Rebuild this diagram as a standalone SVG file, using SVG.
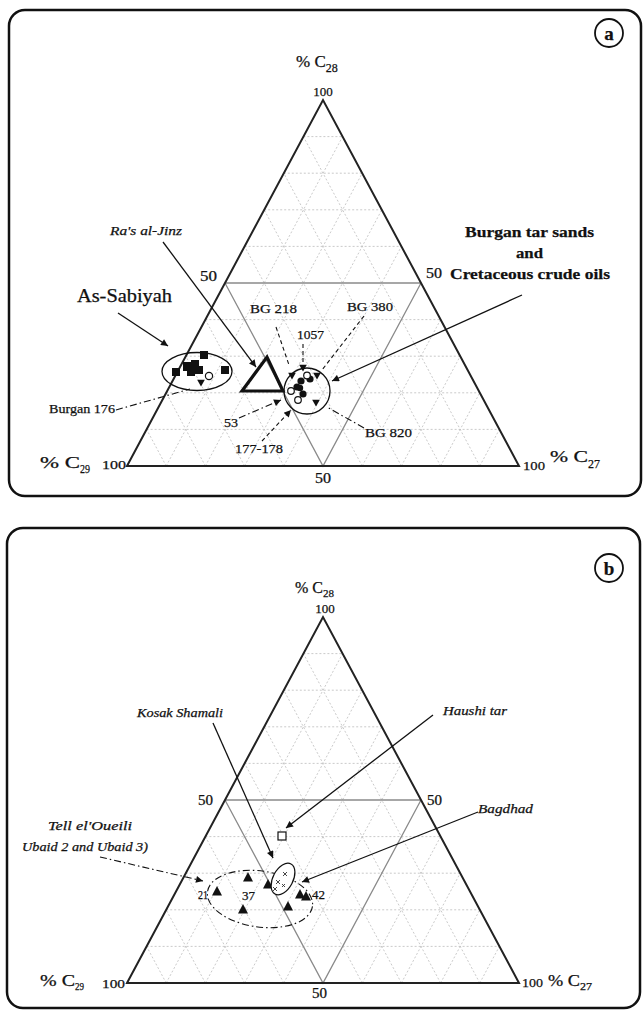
<svg xmlns="http://www.w3.org/2000/svg" xmlns:xlink="http://www.w3.org/1999/xlink" width="643" height="1011" viewBox="0 0 643 1011">
<style>
text{font-family:"Liberation Serif","Times New Roman",serif;fill:#111;stroke:#111;stroke-width:0.25}
.it{font-style:italic}
.bd{font-weight:bold}
.frame{fill:#fff;stroke:#111;stroke-width:2.5}
.grid{fill:none;stroke:#bdbdbd;stroke-width:0.8;stroke-dasharray:2 2}
.half{fill:none;stroke:#8a8a8a;stroke-width:1.3}
.tri{fill:none;stroke:#222;stroke-width:2}
.ln{fill:none;stroke:#111;stroke-width:1.3}
.dash{fill:none;stroke:#111;stroke-width:1.1;stroke-dasharray:4 3}
.dd{fill:none;stroke:#111;stroke-width:1.1;stroke-dasharray:7 3 1.5 3}
.blk{fill:#111}
.open{fill:#fff;stroke:#111;stroke-width:1.2}
</style>
<defs>
<marker id="ah" viewBox="0 0 10 10" refX="10" refY="5" markerWidth="9" markerHeight="7" orient="auto" markerUnits="userSpaceOnUse"><path d="M0,0L10,5L0,10Z" fill="#111"/></marker>
<g id="ternary">
<path class="grid" d="M146.6 429.4H499.4M166.2 392.8H479.8M185.8 356.2H460.2M205.4 319.6H440.6M244.6 246.4H401.4M264.2 209.8H381.8M283.8 173.2H362.2M303.4 136.6H342.6M166.2 466L342.6 136.6M205.4 466L362.2 173.2M244.6 466L381.8 209.8M283.8 466L401.4 246.4M362.2 466L440.6 319.6M401.4 466L460.2 356.2M440.6 466L479.8 392.8M479.8 466L499.4 429.4M479.8 466L303.4 136.6M440.6 466L283.8 173.2M401.4 466L264.2 209.8M362.2 466L244.6 246.4M283.8 466L205.4 319.6M244.6 466L185.8 356.2M205.4 466L166.2 392.8M166.2 466L146.6 429.4"/>
<path class="half" d="M225 283H421M225 283L323 466L421 283"/>
<path class="tri" d="M127 466L323 100L519 466Z"/>
</g>
<path id="dtri" d="M-3.8,-3.2L3.8,-3.2L0,3.6Z"/>
<path id="utri" d="M0,-5L5,4.5L-5,4.5Z"/>
</defs>

<g id="panel-a">
<rect class="frame" x="9" y="10" width="632" height="486" rx="16"/>
<use href="#ternary"/>
<circle cx="609" cy="33" r="14" fill="none" stroke="#111" stroke-width="1.8"/>
<text x="609" y="39.5" font-size="19" class="bd" text-anchor="middle">a</text>
<text x="296" y="67" font-size="17">% C<tspan font-size="12" dy="5">28</tspan></text>
<text x="323" y="96" font-size="13" text-anchor="middle">100</text>
<text x="200" y="281" font-size="14" textLength="17" lengthAdjust="spacingAndGlyphs">50</text>
<text x="426" y="278" font-size="14" textLength="16" lengthAdjust="spacingAndGlyphs">50</text>
<text x="315" y="483" font-size="14" textLength="16" lengthAdjust="spacingAndGlyphs">50</text>
<text x="40" y="468" font-size="17" textLength="40" lengthAdjust="spacingAndGlyphs">% C</text>
<text x="80" y="473" font-size="12" textLength="10" lengthAdjust="spacingAndGlyphs">29</text>
<text x="102" y="469" font-size="13" textLength="24" lengthAdjust="spacingAndGlyphs">100</text>
<text x="523" y="470" font-size="13" textLength="22" lengthAdjust="spacingAndGlyphs">100</text>
<text x="550" y="462" font-size="17" textLength="38" lengthAdjust="spacingAndGlyphs">% C</text>
<text x="588" y="468" font-size="12" textLength="12" lengthAdjust="spacingAndGlyphs">27</text>
</g>

<g id="as-sabiyah">
<text x="77" y="302" font-size="18" textLength="95" lengthAdjust="spacingAndGlyphs">As-Sabiyah</text>
<ellipse cx="197" cy="371.5" rx="35" ry="19" fill="none" stroke="#111" stroke-width="1.3"/>
<g class="blk">
<rect x="172" y="368" width="8" height="8"/>
<rect x="183" y="362" width="9" height="9"/>
<rect x="191" y="360" width="8" height="8"/>
<rect x="187" y="368" width="8" height="8"/>
<rect x="195" y="366" width="8" height="8"/>
<rect x="200" y="351" width="8" height="8"/>
<rect x="221" y="366" width="8" height="8"/>
<use href="#dtri" x="201" y="383"/>
</g>
<circle class="open" cx="209" cy="376" r="3.6"/>
</g>

<g id="ras-al-jinz">
<text x="110" y="235" font-size="13" class="it" textLength="72" lengthAdjust="spacingAndGlyphs">Ra's al-Jinz</text>
<path d="M242 391L267 357L283 391Z" fill="none" stroke="#111" stroke-width="3.2" stroke-linejoin="miter"/>
</g>

<g id="burgan">
<text x="465" y="237" font-size="15" class="bd" textLength="129" lengthAdjust="spacingAndGlyphs">Burgan tar sands</text>
<text x="516" y="258" font-size="15" class="bd" textLength="27" lengthAdjust="spacingAndGlyphs">and</text>
<text x="450" y="279" font-size="15" class="bd" textLength="160" lengthAdjust="spacingAndGlyphs">Cretaceous crude oils</text>
<circle cx="307" cy="391" r="23" fill="none" stroke="#111" stroke-width="1.3"/>
<g class="blk">
<use href="#dtri" x="303" y="368"/>
<use href="#dtri" x="292" y="376"/>
<use href="#dtri" x="317" y="376"/>
<use href="#dtri" x="316" y="403"/>
<circle cx="301" cy="381" r="3.6"/>
<circle cx="297" cy="387" r="3.6"/>
<circle cx="310" cy="379" r="3.6"/>
<circle cx="303" cy="394" r="3.6"/>
<circle cx="300" cy="388" r="3.2"/>
</g>
<circle class="open" cx="307" cy="375.5" r="3.3"/>
<circle class="open" cx="291" cy="391" r="3.3"/>
<circle class="open" cx="298" cy="400" r="3.3"/>
</g>

<g id="labels-a">
<text x="250" y="313" font-size="13.5" textLength="47" lengthAdjust="spacingAndGlyphs">BG 218</text>
<text x="297" y="339" font-size="13" textLength="27" lengthAdjust="spacingAndGlyphs">1057</text>
<text x="347" y="311" font-size="13.5" textLength="46" lengthAdjust="spacingAndGlyphs">BG 380</text>
<text x="49" y="413" font-size="13" textLength="66" lengthAdjust="spacingAndGlyphs">Burgan 176</text>
<text x="224" y="427" font-size="13" textLength="14" lengthAdjust="spacingAndGlyphs">53</text>
<text x="235" y="453" font-size="13" textLength="48" lengthAdjust="spacingAndGlyphs">177-178</text>
<text x="365" y="437" font-size="13.5" textLength="47" lengthAdjust="spacingAndGlyphs">BG 820</text>
</g>

<g id="connectors-a">
<path class="ln" d="M118 313L168 346" marker-end="url(#ah)"/>
<path class="ln" d="M163 242L256 367" marker-end="url(#ah)"/>
<path class="ln" d="M522 295L332 381" marker-end="url(#ah)"/>
<path class="dash" d="M276 327L289 365"/>
<path class="dash" d="M303 344L303 362"/>
<path class="dash" d="M364 316L322 370"/>
<path class="dd" d="M364 428L327 407"/>
<path class="dd" d="M116 410L190 389"/>
<path class="dd" d="M239 418L281 400" marker-end="url(#ah)"/>
<path class="dash" d="M262 441L291 410" marker-end="url(#ah)"/>
</g>

<g id="panel-b">
<rect class="frame" x="7" y="528" width="633" height="480" rx="16"/>
<use href="#ternary" transform="translate(0,517)"/>
<circle cx="609" cy="568" r="14" fill="none" stroke="#111" stroke-width="1.8"/>
<text x="609" y="574.5" font-size="19" class="bd" text-anchor="middle">b</text>
<text x="295" y="593" font-size="16">% C<tspan font-size="11" dy="4">28</tspan></text>
<text x="325" y="613" font-size="13" text-anchor="middle">100</text>
<text x="198" y="805" font-size="14" textLength="15" lengthAdjust="spacingAndGlyphs">50</text>
<text x="427" y="805" font-size="14" textLength="15" lengthAdjust="spacingAndGlyphs">50</text>
<text x="312" y="998" font-size="14" textLength="15" lengthAdjust="spacingAndGlyphs">50</text>
<text x="40" y="986" font-size="16" textLength="35" lengthAdjust="spacingAndGlyphs">% C</text>
<text x="75" y="990" font-size="11" textLength="9" lengthAdjust="spacingAndGlyphs">29</text>
<text x="102" y="988" font-size="13" textLength="23" lengthAdjust="spacingAndGlyphs">100</text>
<text x="522" y="987" font-size="13" textLength="21" lengthAdjust="spacingAndGlyphs">100</text>
<text x="548" y="986" font-size="16" textLength="32" lengthAdjust="spacingAndGlyphs">% C</text>
<text x="580" y="990" font-size="11" textLength="12" lengthAdjust="spacingAndGlyphs">27</text>
</g>

<g id="haushi-tar">
<text x="443" y="715" font-size="13" class="it" textLength="64" lengthAdjust="spacingAndGlyphs">Haushi tar</text>
<rect class="open" x="278" y="832" width="8" height="8"/>
</g>

<g id="kosak-shamali">
<text x="137" y="717" font-size="13" class="it" textLength="86" lengthAdjust="spacingAndGlyphs">Kosak Shamali</text>
</g>

<g id="bagdhad">
<text x="478" y="813" font-size="13" class="it" textLength="55" lengthAdjust="spacingAndGlyphs">Bagdhad</text>
</g>

<g id="tell-el-oueili">
<text x="48" y="830" font-size="13" class="it" textLength="84" lengthAdjust="spacingAndGlyphs">Tell el'Oueili</text>
<text x="22" y="851" font-size="13" class="it" textLength="126" lengthAdjust="spacingAndGlyphs">Ubaid 2 and Ubaid 3)</text>
<ellipse class="dd" cx="260" cy="899" rx="53" ry="28" transform="rotate(8 260 899)"/>
<g class="blk">
<use href="#utri" x="217" y="891"/>
<use href="#utri" x="248" y="877"/>
<use href="#utri" x="243" y="909"/>
<use href="#utri" x="268" y="884"/>
<use href="#utri" x="288" y="906"/>
<use href="#utri" x="300" y="894"/>
<use href="#utri" x="306" y="896"/>
</g>
<ellipse cx="283" cy="879" rx="10" ry="17" transform="rotate(28 283 879)" fill="#fff" stroke="#111" stroke-width="1.2"/>
<path d="M283 872l4 4m0 -4l-4 4M276 880l4 4m0 -4l-4 4M273 887l4 4m0 -4l-4 4M282 884l3 3m0 -3l-3 3" stroke="#333" stroke-width="0.9" fill="none"/>
<text x="198" y="899" font-size="13" textLength="10" lengthAdjust="spacingAndGlyphs">21</text>
<text x="242" y="900" font-size="13" textLength="13" lengthAdjust="spacingAndGlyphs">37</text>
<text x="312" y="899" font-size="13" textLength="13" lengthAdjust="spacingAndGlyphs">42</text>
</g>

<g id="connectors-b">
<path class="ln" d="M213 723L273 858" marker-end="url(#ah)"/>
<path class="ln" d="M433 715L286 828" marker-end="url(#ah)"/>
<path class="ln" d="M478 812L302 882" marker-end="url(#ah)"/>
<path class="dd" d="M100 857L203 881" marker-end="url(#ah)"/>
</g>
</svg>
